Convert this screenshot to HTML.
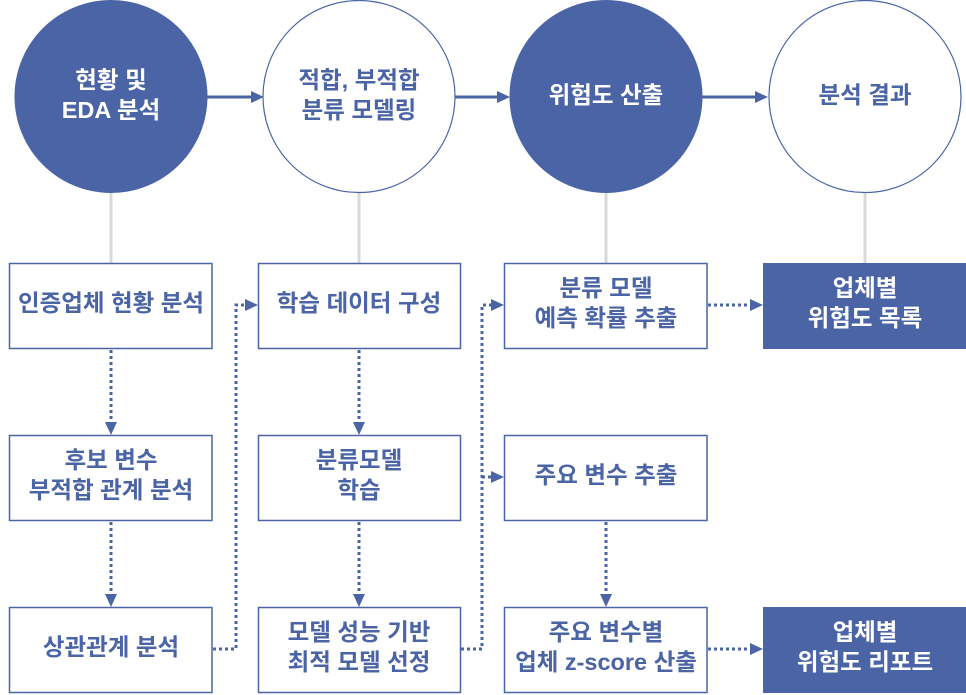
<!DOCTYPE html>
<html><head><meta charset="utf-8"><style>
html,body{margin:0;padding:0;background:#fff;}
svg{display:block;}
text{font-family:"Liberation Sans","Noto Sans CJK KR",sans-serif;font-size:23.5px;font-weight:700;text-anchor:middle;dominant-baseline:central;}
.b{fill:#4a64a6;}
.w{fill:#fff;}
</style></head><body>
<svg width="966" height="695" viewBox="0 0 966 695" xmlns="http://www.w3.org/2000/svg">
<!-- gray verticals -->
<g stroke="#d9d9d9" stroke-width="3">
<line x1="111" y1="190" x2="111" y2="263"/>
<line x1="359" y1="190" x2="359" y2="263"/>
<line x1="606" y1="190" x2="606" y2="263"/>
<line x1="865" y1="190" x2="865" y2="263"/>
</g>
<!-- solid arrows -->
<g stroke="#4a64a6" stroke-width="3">
<line x1="207" y1="97" x2="251" y2="97"/>
<line x1="455" y1="97" x2="498" y2="97"/>
<line x1="702" y1="97" x2="756" y2="97"/>
</g>
<g fill="#4a64a6">
<path d="M251,91 L264,97 L251,103 Z"/>
<path d="M497,91 L510,97 L497,103 Z"/>
<path d="M755,91 L768,97 L755,103 Z"/>
</g>
<!-- circles -->
<circle cx="111" cy="96.5" r="96.5" fill="#4a64a6"/>
<circle cx="359" cy="96.5" r="96" fill="#fff" stroke="#4a64a6" stroke-width="1.2"/>
<circle cx="606" cy="96.5" r="96.5" fill="#4a64a6"/>
<circle cx="865" cy="96.5" r="96" fill="#fff" stroke="#4a64a6" stroke-width="1.2"/>
<text class="w" x="111" y="80">현황 및</text>
<text class="w" x="111" y="110">EDA 분석</text>
<text class="b" x="359" y="80">적합, 부적합</text>
<text class="b" x="359" y="110">분류 모델링</text>
<text class="w" x="606" y="95">위험도 산출</text>
<text class="b" x="865" y="95">분석 결과</text>
<!-- dotted connectors -->
<g stroke="#4a64a6" stroke-width="3" stroke-dasharray="3 3" fill="none">
<line x1="111" y1="350" x2="111" y2="422"/>
<line x1="111" y1="522" x2="111" y2="594"/>
<line x1="359" y1="350" x2="359" y2="422"/>
<line x1="359" y1="522" x2="359" y2="594"/>
<line x1="606" y1="522" x2="606" y2="594"/>
<polyline points="213,649 236,649 236,305 245,305"/>
<polyline points="461,649 482,649 482,305 492,305"/>
<line x1="482" y1="477" x2="492" y2="477"/>
<line x1="708" y1="305" x2="751" y2="305"/>
<line x1="708" y1="649" x2="751" y2="649"/>
</g>
<g fill="#4a64a6">
<path d="M105,422 L117,422 L111,435 Z"/>
<path d="M105,594 L117,594 L111,607 Z"/>
<path d="M353,422 L365,422 L359,435 Z"/>
<path d="M353,594 L365,594 L359,607 Z"/>
<path d="M600,594 L612,594 L606,607 Z"/>
<path d="M245,299 L258,305 L245,311 Z"/>
<path d="M491,299 L504,305 L491,311 Z"/>
<path d="M491,471 L504,477 L491,483 Z"/>
<path d="M750,299 L763,305 L750,311 Z"/>
<path d="M750,643 L763,649 L750,655 Z"/>
</g>
<!-- boxes -->
<g fill="#fff" stroke="#4a64a6" stroke-width="1.5">
<rect x="9.5" y="263.5" width="202.5" height="85"/>
<rect x="258.5" y="263.5" width="202" height="85"/>
<rect x="504.5" y="263.5" width="202.5" height="85"/>
<rect x="9.5" y="435.5" width="202.5" height="85"/>
<rect x="258.5" y="435.5" width="202" height="85"/>
<rect x="504.5" y="435.5" width="202.5" height="85"/>
<rect x="9.5" y="607.5" width="202.5" height="85"/>
<rect x="258.5" y="607.5" width="202" height="85"/>
<rect x="504.5" y="607.5" width="202.5" height="85"/>
</g>
<rect x="763" y="263" width="203" height="86" fill="#4a64a6"/>
<rect x="763" y="607" width="203" height="86" fill="#4a64a6"/>
<!-- box text -->
<text class="b" x="111" y="303">인증업체 현황 분석</text>
<text class="b" x="359" y="303">학습 데이터 구성</text>
<text class="b" x="606" y="288">분류 모델</text>
<text class="b" x="606" y="318">예측 확률 추출</text>
<text class="w" x="865" y="288">업체별</text>
<text class="w" x="865" y="318">위험도 목록</text>
<text class="b" x="111" y="460">후보 변수</text>
<text class="b" x="111" y="490">부적합 관계 분석</text>
<text class="b" x="359" y="460">분류모델</text>
<text class="b" x="359" y="490">학습</text>
<text class="b" x="606" y="475">주요 변수 추출</text>
<text class="b" x="111" y="647">상관관계 분석</text>
<text class="b" x="359" y="632">모델 성능 기반</text>
<text class="b" x="359" y="662">최적 모델 선정</text>
<text class="b" x="606" y="632">주요 변수별</text>
<text class="b" x="606" y="662">업체 z-score 산출</text>
<text class="w" x="865" y="632">업체별</text>
<text class="w" x="865" y="662">위험도 리포트</text>
</svg>
</body></html>
